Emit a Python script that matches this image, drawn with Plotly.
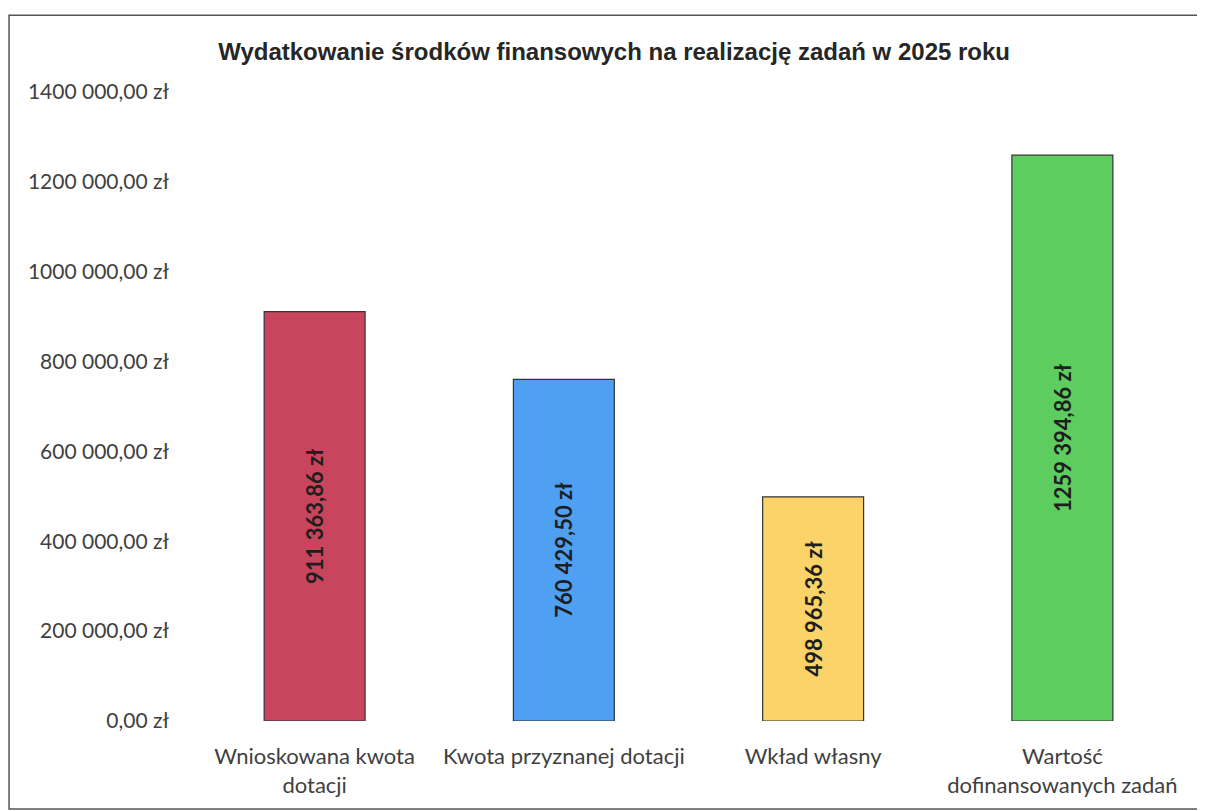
import plotly.graph_objects as go

# Dane z wykresu
categories = ["Wnioskowana kwota<br>dotacji", "Kwota przyznanej dotacji",
              "Wkład własny", "Wartość<br>dofinansowanych zadań"]
values = [911363.86, 760429.50, 498965.36, 1259394.86]
value_labels = ["911 363,86 zł", "760 429,50 zł", "498 965,36 zł", "1259 394,86 zł"]
bar_colors = ["#c9455d", "#4f9ff3", "#fcd368", "#5ecd60"]

tick_values = [0, 200000, 400000, 600000, 800000, 1000000, 1200000, 1400000]
tick_labels = ["0,00 zł", "200 000,00 zł", "400 000,00 zł", "600 000,00 zł",
               "800 000,00 zł", "1000 000,00 zł", "1200 000,00 zł", "1400 000,00 zł"]

fig = go.Figure(go.Bar(
    x=categories,
    y=values,
    text=value_labels,
    textposition="inside",
    insidetextanchor="middle",
    textangle=-90,
    textfont=dict(family="Lato", size=22, color="#1e1e1e", weight="bold"),
    marker=dict(color=bar_colors, line=dict(color="#333333", width=1.2)),
    width=0.405,
    showlegend=False,
))

fig.update_layout(
    width=1205,
    height=811,
    margin=dict(l=182, r=26, t=84, b=98),
    paper_bgcolor="white",
    plot_bgcolor="white",
    font=dict(family="Lato", color="#404040"),
    title=dict(
        text="<b>Wydatkowanie środków finansowych na realizację zadań w 2025 roku</b>",
        x=0.503, xanchor="center", y=0.946, yanchor="middle",
        font=dict(family="Liberation Sans", size=24, color="#262626"),
    ),
    xaxis=dict(
        showgrid=False, showline=False, ticks="",
        tickfont=dict(size=22, color="#404040"),
        ticklabelstandoff=20,
    ),
    yaxis=dict(
        range=[0, 1400000],
        tickvals=tick_values,
        ticktext=tick_labels,
        showgrid=False, zeroline=False, showline=False,
        tickfont=dict(size=21, color="#404040"),
        ticklabelstandoff=20,
    ),
    shapes=[dict(
        type="rect", xref="paper", yref="paper",
        x0=-0.1815, x1=1.05, y0=-0.14, y1=1.122,
        line=dict(color="#555555", width=1.5),
    )],
)

fig.write_html("out.html")
